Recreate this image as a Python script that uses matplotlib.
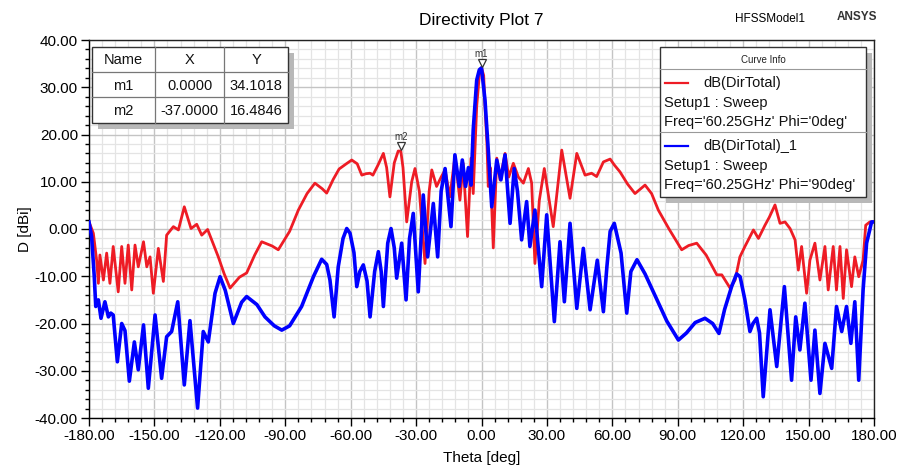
import matplotlib
matplotlib.use("Agg")
import matplotlib.pyplot as plt
from matplotlib.patches import Rectangle
from matplotlib.lines import Line2D
from matplotlib.ticker import MultipleLocator, FormatStrFormatter
from matplotlib import font_manager

# ---------------- data ----------------
red_theta = [-180, -178, -176.5, -175.7, -175, -173.4, -171.9, -170.4, -168.9, -166.6, -165, -163.5,
             -162, -160.4, -158.9, -157.4, -155, -153.5, -152, -150.5, -148.2, -145.9, -144.4, -141.3,
             -139, -136.3, -133.2, -130.6, -128.3, -125.6, -120.7, -118, -115.3, -111, -107.7, -104,
             -100.8, -96, -93.2, -88, -84, -80, -76.4, -73, -71, -68, -65.3, -62, -59.5, -57, -54.9,
             -53, -51.1, -49.8, -47.5, -45, -43.5, -42, -40, -38.2, -37, -36, -34.3, -32, -30.5, -28.5,
             -25.9, -24, -22.8, -20.6, -18.5, -16.7, -14.5, -12.2, -9.9, -8.4, -6.4, -4.8, -3.8, -2.2,
             -1, 0, 1, 1.6, 2.5, 3.1, 4.0, 5.4, 7, 8.5, 10.8, 12.5, 14.6, 16.9, 19.2, 21.5, 23, 24.5,
             26.5, 28.8, 32.9, 36.8, 40.6, 43.7, 47.5, 50.5, 52.8, 55.9, 59, 61, 63.5, 67, 70.4, 75, 78,
             81.1, 86, 91.8, 95, 98.7, 103, 107.9, 110.2, 114, 116.3, 118.5, 120.8, 124.7, 127, 130,
             132, 134.6, 136.9, 139.2, 141.5, 143.8, 145.3, 146.8, 149.1, 150.6, 152.9, 155.2, 157.5,
             159, 161.3, 162.8, 164.4, 165.9, 167.4, 169.7, 171.2, 173, 175, 176.2, 178.1, 180]
red_db = [1.5, -0.9, -6.6, -11.5, -5.5, -10.8, -5.1, -11.5, -3.7, -13.3, -3.7, -11.5,
          -3.4, -12.9, -3.4, -8.0, -2.7, -8.0, -5.9, -13.6, -4.1, -11.1, -1.3, 0.5,
          -0.2, 4.7, 0.1, 1.0, -1.3, -0.1, -5.9, -9.5, -12.5, -10.2, -9.3, -5.5,
          -2.7, -3.6, -4.4, -0.5, 4.0, 7.5, 9.7, 8.5, 7.6, 10.5, 12.7, 13.8, 14.6, 13.8, 11.4,
          11.7, 11.8, 11.4, 13.5, 16.0, 13.0, 6.8, 14.0, 16.5, 16.48, 13.0, 1.5, 10.0, 12.8, 8.0,
          -7.3, 8.0, 12.5, 9.0, 11.0, 12.5, 6.8, 15.3, 6.1, 13.9, -1.6, 15.0, 7.5, 26.0,
          32.5, 34.1, 32.5, 26.0, 18.0, 9.0, 13.0, -4.0, 15.0, 10.4, 16.0, 11.0, 13.9, 11.0, 9.7, 12.8, 9.7, -7.3,
          6.0, 12.8, 0.5, 16.7, 6.5, 16.0, 11.4, 11.8, 11.1, 14.2, 14.8, 13.5, 12.1, 9.5, 7.5, 9.3, 7.5,
          4.0, 0.0, -4.4, -3.5, -3.0, -5.5, -9.7, -9.7, -12.5, -10.8, -5.9, -3.7, -0.2, -2.0, 0.8,
          2.5, 5.1, 1.2, 1.5, 0.1, -2.3, -8.7, -3.7, -13.6, -6.6, -3.0, -10.8, -3.7,
          -12.9, -3.7, -12.9, -3.7, -14.7, -4.4, -12.2, -5.9, -10.1, -6.6, 0.8, 1.5, 1.5]

blue_theta = [-180, -178.8, -177.6, -176.9, -175.7, -174.5, -172.7, -171.1, -170, -168.9, -167, -165,
              -163.5, -161.5, -159.2, -157.4, -155, -152.8, -149.7, -146.7, -144.4, -142.1, -139.3,
              -136.3, -133.7, -130.2, -127.6, -125.3, -122.2, -119.9, -117.5, -113.8, -110, -107.7,
              -103, -99.3, -95, -91.6, -88, -82.5, -77, -73.3, -71, -69.5, -67.6, -65.7, -63.5, -61.8,
              -60.3, -58.5, -57.2, -55.8, -54.2, -52.5, -51.1, -49, -47.3, -46, -45, -43, -41.5, -40,
              -38.9, -36.6, -34.6, -33, -31.3, -29, -26.7, -24.7, -22.1, -20.1, -18.5, -16.7, -14,
              -12.2, -10.2, -8.8, -7.3, -6, -4.8, -3.8, -2.2, -1, 0, 1.6, 3.1, 4.7, 7, 8.9, 10.8, 13.1,
              15, 16.5, 18.4, 20.7, 22.2, 24.5, 27.6, 29.9, 33.4, 36, 38, 40.6, 43.7, 46.7, 49.8, 53.1,
              55.9, 57.5, 59, 60.9, 62.5, 64, 66.6, 68.5, 71.3, 75, 80, 85, 90.3, 94, 98, 102.5, 106,
              108.9, 111.5, 114.7, 117, 118.6, 120.8, 123.1, 124.5, 126.2, 127.5, 129.2, 132.3, 135.4,
              138.9, 142.2, 144.1, 146, 148.3, 151.1, 152.9, 155.2, 157.5, 160.6, 162.8, 165.2, 167.4,
              169.4, 171.2, 173, 175, 176.6, 178.9, 180]
blue_db = [1.5, -1.6, -10.0, -16.4, -15.0, -18.9, -15.4, -18.6, -17.8, -18.2, -28.1, -20.0,
           -21.5, -32.2, -23.9, -29.8, -20.3, -33.7, -18.2, -31.6, -22.8, -21.7, -15.4,
           -33.0, -19.4, -37.9, -21.7, -23.9, -13.6, -10.1, -13.0, -20.0, -15.5, -14.3,
           -16.0, -18.6, -20.5, -21.4, -20.5, -16.4, -10.0, -6.4, -7.5, -10.8, -18.6, -8.0, -2.0, 0.1,
           -0.9, -5.0, -12.2, -9.0, -7.6, -11.0, -18.6, -9.0, -4.8, -9.0, -16.4, -3.0, 0.1, -4.0,
           -10.4, -3.0, -15.0, -2.0, 3.3, -13.3, 7.2, -5.9, 5.4, -5.9, 8.0, 12.8, 0.5,
           15.7, 9.0, 14.6, 9.0, 13.0, 9.3, 21.0, 31.5, 33.7, 34.1, 27.3, 16.7, 4.7, 14.6, 10.4, 15.7, 1.2,
           12.8, 8.0, -2.3, 5.8, -3.7, 4.0, -12.2, 3.0, -19.6, -2.7, -15.4, 1.2, -16.8, -4.1, -17.1, -6.6,
           -17.5, -8.0, -0.5, 1.2, -2.0, -5.1, -17.8, -9.0, -6.5, -9.5, -14.5, -19.5, -23.5, -22.0, -19.8, -18.9, -20.0,
           -22.1, -17.0, -12.2, -9.5, -10.1, -15.0, -21.7, -20.0, -18.9, -22.0, -35.5, -17.1, -29.1,
           -12.2, -32.0, -18.6, -25.6, -15.7, -32.0, -21.4, -34.8, -24.2, -29.5, -16.4, -21.7, -16.4,
           -24.2, -15.4, -32.0, -12.9, -3.0, 1.5, 1.5]

x_ticks = [-180, -150, -120, -90, -60, -30, 0, 30, 60, 90, 120, 150, 180]
y_ticks = [-40, -30, -20, -10, 0, 10, 20, 30, 40]

marker_names = ["m1", "m2"]
marker_x = [0.0, -37.0]
marker_y = [34.1018, 16.4846]

legend_names = ["dB(DirTotal)", "dB(DirTotal)_1"]
legend_setup = ["Setup1 : Sweep", "Setup1 : Sweep"]
legend_freq = ["Freq='60.25GHz' Phi='0deg'", "Freq='60.25GHz' Phi='90deg'"]

RED = "#ee1c25"
BLUE = "#0000ff"

# ---------------- fonts ----------------
avail = {f.name for f in font_manager.fontManager.ttflist}
MAIN = "Liberation Sans" if "Liberation Sans" in avail else "DejaVu Sans"
NARROW = "Liberation Sans Narrow" if "Liberation Sans Narrow" in avail else MAIN
plt.rcParams["font.family"] = [MAIN, "DejaVu Sans"]

W, H = 898, 472
fig = plt.figure(figsize=(W / 100, H / 100), dpi=100)
L, R, T, B = 89, 874, 40, 418
ax = fig.add_axes([L / W, 1 - B / H, (R - L) / W, (B - T) / H])

ax.plot(red_theta, red_db, color=RED, lw=2.0, zorder=3, solid_joinstyle="round")
ax.plot(blue_theta, blue_db, color=BLUE, lw=2.6, zorder=4, solid_joinstyle="round")

ax.set_xlim(-180, 180)
ax.set_ylim(-40, 40)
ax.xaxis.set_minor_locator(MultipleLocator(6))
ax.yaxis.set_minor_locator(MultipleLocator(2))
ax.set_xticks(x_ticks)
ax.set_yticks(y_ticks)
ax.xaxis.set_major_formatter(FormatStrFormatter("%.2f"))
ax.yaxis.set_major_formatter(FormatStrFormatter("%.2f"))
ax.grid(which="major", color="#c4c4c4", lw=1.0, zorder=0)
ax.grid(which="minor", color="#e4e4e4", lw=0.9, zorder=0)
ax.set_axisbelow(True)
ax.tick_params(which="major", direction="out", length=6, width=1, color="black",
               labelsize=11, pad=2)
ax.tick_params(which="minor", direction="out", length=3, width=1, color="black")
for lab in ax.get_xticklabels() + ax.get_yticklabels():
    lab.set_family(NARROW)
for s in ax.spines.values():
    s.set_color("#222222")
    s.set_linewidth(1.0)
ax.spines["left"].set_color("black")
ax.spines["bottom"].set_color("black")

ax.set_xlabel("Theta [deg]", fontsize=11, family=NARROW, labelpad=6)
ax.set_ylabel("D [dBi]", fontsize=11, family=NARROW, labelpad=2)

fig.text(481 / W, 1 - 20 / H, "Directivity Plot 7", ha="center", va="center", fontsize=12.5)
fig.text(770 / W, 1 - 19 / H, "HFSSModel1", ha="center", va="center", fontsize=8.5)
fig.text(857 / W, 1 - 17 / H, "ANSYS", ha="center", va="center", fontsize=8.5, weight="bold",
         color="#333333")

# markers
for name, mx, my in zip(marker_names, marker_x, marker_y):
    ax.plot([mx], [my], marker="v", ms=5.5, mfc="white", mec="#333333", mew=0.9,
            transform=ax.transData + matplotlib.transforms.ScaledTranslation(0, 5 / 100, fig.dpi_scale_trans),
            zorder=6, clip_on=False)
    ax.text(mx, my, name, ha="center", va="bottom", fontsize=7, color="#333333",
            transform=ax.transData + matplotlib.transforms.ScaledTranslation(0, 9 / 100, fig.dpi_scale_trans),
            zorder=6)


def ax_xy(px, py):
    return (px - L) / (R - L), (B - py) / (B - T)


def rect(px0, py0, px1, py1, **kw):
    x0, y1 = ax_xy(px0, py0)
    x1, y0 = ax_xy(px1, py1)
    r = Rectangle((x0, y0), x1 - x0, y1 - y0, transform=ax.transAxes, clip_on=False, **kw)
    ax.add_patch(r)


def hline(px0, px1, py, **kw):
    x0, y = ax_xy(px0, py)
    x1, _ = ax_xy(px1, py)
    ax.add_line(Line2D([x0, x1], [y, y], transform=ax.transAxes, clip_on=False, **kw))


def vline(px, py0, py1, **kw):
    x, y0 = ax_xy(px, py0)
    _, y1 = ax_xy(px, py1)
    ax.add_line(Line2D([x, x], [y0, y1], transform=ax.transAxes, clip_on=False, **kw))


def txt(px, py, s, **kw):
    x, y = ax_xy(px, py)
    ax.text(x, y, s, transform=ax.transAxes, clip_on=False, zorder=12, **kw)


# ---- marker table ----
tx0, ty0, tx1, ty1 = 92, 47, 288, 123
rect(tx0 + 6, ty0 + 6, tx1 + 6, ty1 + 6, facecolor="#b8b8b8", edgecolor="none", zorder=9)
rect(tx0, ty0, tx1, ty1, facecolor="white", edgecolor="#333333", lw=1.0, zorder=10)
col_edges = [tx0, 155, 224, tx1]
row_edges = [ty0, 72, 97, ty1]
for cx in col_edges[1:-1]:
    vline(cx, ty0, ty1, color="#777777", lw=0.9, zorder=11)
for ry in row_edges[1:-1]:
    hline(tx0, tx1, ry, color="#777777", lw=0.9, zorder=11)
table_rows = [["Name", "X", "Y"]] + [
    [n, "%.4f" % x, "%.4f" % y] for n, x, y in zip(marker_names, marker_x, marker_y)]
for ri, row in enumerate(table_rows):
    cy = (row_edges[ri] + row_edges[ri + 1]) / 2
    for ci, val in enumerate(row):
        cx = (col_edges[ci] + col_edges[ci + 1]) / 2
        txt(cx, cy + 1, val, ha="center", va="center", fontsize=10.5, color="#111111")

# ---- legend ----
lx0, ly0, lx1, ly1 = 660, 47, 866, 197
rect(lx0 + 6, ly0 + 6, lx1 + 6, ly1 + 6, facecolor="#b8b8b8", edgecolor="none", zorder=9)
rect(lx0, ly0, lx1, ly1, facecolor="white", edgecolor="#333333", lw=1.0, zorder=10)
txt((lx0 + lx1) / 2, 60, "Curve Info", ha="center", va="center", fontsize=7, color="#222222")
hline(lx0, lx1, 69, color="#999999", lw=0.8, zorder=11)
hline(lx0, lx1, 132, color="#999999", lw=0.8, zorder=11)
entry_y = [83, 146]
for (ey, nm, st, fq, col) in zip(entry_y, legend_names, legend_setup, legend_freq, [RED, BLUE]):
    hline(665, 688, ey, color=col, lw=1.6, zorder=11)
    txt(703, ey, nm, ha="left", va="center", fontsize=10.5, color="#111111")
    txt(664, ey + 20, st, ha="left", va="center", fontsize=10.5, color="#111111")
    txt(664, ey + 39, fq, ha="left", va="center", fontsize=10.5, color="#111111")

fig.savefig("out.png", dpi=100)
